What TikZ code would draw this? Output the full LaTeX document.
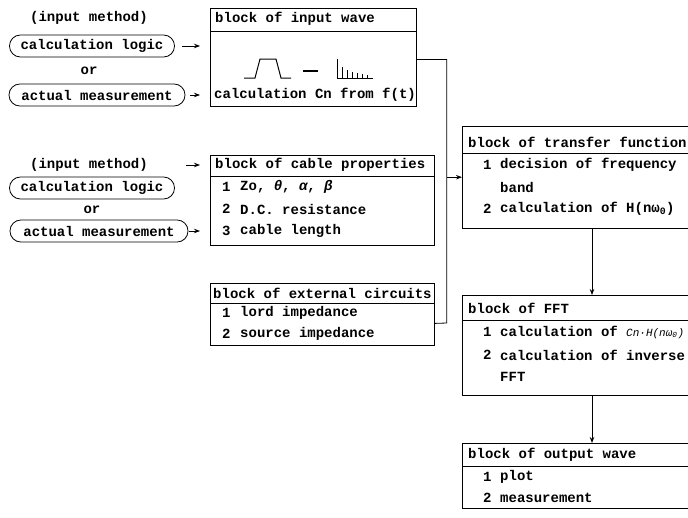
\documentclass[tikz,border=0pt]{standalone}
\usepackage{fontspec}
\setmainfont{Liberation Mono}
\usetikzlibrary{calc,arrows.meta}
\begin{document}
\begin{tikzpicture}[x=1pt,y=-1pt,
  txt/.style={anchor=west,inner sep=0pt,font=\fontsize{14}{16}\selectfont\bfseries},
  ctxt/.style={inner sep=0pt,font=\fontsize{14}{16}\selectfont\bfseries},
  pill/.style={draw,line width=0.8pt,rounded corners=10.9pt,minimum height=22pt,inner xsep=8pt,font=\fontsize{14}{16}\selectfont\bfseries},
  blk/.style={draw,line width=0.8pt,anchor=north west,inner sep=0pt},
  openblk/.style={anchor=north west,inner sep=0pt},
  ln/.style={line width=0.8pt},
  arr/.style={line width=0.8pt,-{Stealth[length=6pt,width=4.5pt]}}]
\useasboundingbox (0,0) rectangle (688,517);

% ---------- top input group ----------
\node[ctxt] (im1) at (89,18) {(input method)};
\node[pill,minimum width=165pt] (calc1) at (92,46) {calculation logic};
\node[ctxt] (or1) at (89,71) {or};
\node[pill,minimum width=176pt] (meas1) at (97,95) {actual measurement};

\node[blk,minimum width=206pt,minimum height=98pt] (wave) at (210,8) {};
\node[txt] (waveh) at (215,19) {block of input wave};
\draw[ln] (210,31) -- (416,31);
\node[txt] (wavet) at (214,95) {calculation Cn from f(t)};
% pulse and spectrum
\draw[line width=1pt] (244,78) -- (255,78) -- (260,59) -- (276,59) -- (281,78) -- (291,78);
\draw[line width=1.3pt] (303,71) -- (318,71);
\draw[line width=1pt] (337,59) -- (337,78) -- (373,78);
\foreach \x/\h in {342/67,347/70,352/72,357/73,362/74,367/75}
  \draw[line width=1pt] (\x,78) -- (\x,\h);

\draw[arr,shorten <=7pt,shorten >=10pt] (calc1.east) -- (calc1.east -| wave.west);
\draw[arr,shorten <=5pt,shorten >=10pt] (meas1.east) -- (meas1.east -| wave.west);

% ---------- cable group ----------
\node[ctxt] (im2) at (89,165) {(input method)};
\node[pill,minimum width=165pt] (calc2) at (92,188) {calculation logic};
\node[ctxt] (or2) at (92,210) {or};
\node[pill,minimum width=178pt] (meas2) at (99,231) {actual measurement};

\node[blk,minimum width=224pt,minimum height=90pt] (cable) at (210,155) {};
\node[txt] (cableh) at (215,165) {block of cable properties};
\draw[ln] (210,176) -- (434,176);
\node[txt] (c1) at (222,187) {1};
\node[txt] (c1t) at (240,187) {Zo, \itshape θ\upshape, \itshape α\upshape, \itshape β};
\node[txt] (c2) at (222,209) {2};
\node[txt] (c2t) at (240,209) {D.C. resistance};
\node[txt] (c3) at (222,231) {3};
\node[txt] (c3t) at (240,231) {cable length};

\draw[arr] ($(im2.east -| cable.west)+(-24,0)$) -- ($(im2.east -| cable.west)+(-10,0)$);
\draw[arr,shorten <=1pt,shorten >=10pt] (meas2.east) -- (meas2.east -| cable.west);

% ---------- external circuits ----------
\node[blk,minimum width=224pt,minimum height=62pt] (ext) at (210,283) {};
\node[txt] (exth) at (213,293) {block of external circuits};
\draw[ln] (210,303) -- (434,303);
\node[txt] (e1) at (222,313) {1};
\node[txt] (e1t) at (240,313) {lord impedance};
\node[txt] (e2) at (222,334) {2};
\node[txt] (e2t) at (240,334) {source impedance};

% ---------- collecting bracket ----------
\coordinate (bx) at ($(wave.east)+(30,2)$);
\draw[ln] ($(wave.east)+(0,2)$) -- (bx) -- (bx |- 0,323) -- ($(ext.east)+(0,9)$);

% ---------- transfer function ----------
\node[openblk,minimum width=226pt,minimum height=102pt] (tf) at (462,126) {};
\draw[ln] (tf.north east) -- (tf.north west) -- (tf.south west) -- (tf.south east);
\node[txt] (tfh) at (468,142) {block of transfer function};
\draw[ln] (462,153) -- (688,153);
\node[txt] (t1) at (483,165) {1};
\node[txt] (t1t) at (500,165) {decision of frequency};
\node[txt] (t1b) at (500,187) {band};
\node[txt] (t2) at (483,209) {2};
\node[txt] (t2t) at (500,209) {calculation of H(nω\textsubscript{0})};
\draw[arr] (bx |- tf.west) -- (tf.west);

% ---------- FFT ----------
\node[openblk,minimum width=226pt,minimum height=100pt] (fft) at (462,295) {};
\draw[ln] (fft.north east) -- (fft.north west) -- (fft.south west) -- (fft.south east);
\node[txt] (ffth) at (468,308) {block of FFT};
\draw[ln] (462,320) -- (688,320);
\node[txt] (f1) at (483,332) {1};
\node[txt] (f1t) at (500,332) {calculation of {\mdseries\itshape\fontsize{11}{12}\selectfont Cn·H(nω\textsubscript{0})}};
\node[txt] (f2) at (483,355) {2};
\node[txt] (f2t) at (500,355) {calculation of inverse};
\node[txt] (f2b) at (500,377) {FFT};

\draw[arr] ($(tf.south west)+(130,0)$) -- ($(fft.north west)+(130,0)$);

% ---------- output ----------
\node[openblk,minimum width=226pt,minimum height=65pt] (out) at (462,443) {};
\draw[ln] (out.north east) -- (out.north west) -- (out.south west) -- (out.south east);
\node[txt] (oh) at (468,455) {block of output wave};
\draw[ln] (462,466) -- (688,466);
\node[txt] (o1) at (483,477) {1};
\node[txt] (o1t) at (500,477) {plot};
\node[txt] (o2) at (483,498) {2};
\node[txt] (o2t) at (500,498) {measurement};

\draw[arr] ($(fft.south west)+(130,0)$) -- ($(out.north west)+(130,0)$);
\end{tikzpicture}
\end{document}
